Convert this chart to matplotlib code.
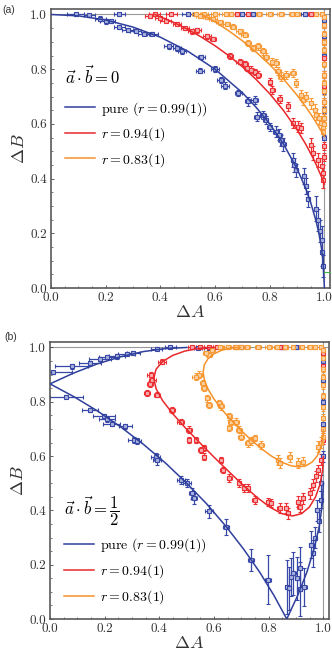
import numpy as np
import matplotlib
matplotlib.use("Agg")
import matplotlib.pyplot as plt
from matplotlib.ticker import MultipleLocator, FormatStrFormatter

plt.rcParams['font.family'] = ['cmr10', 'DejaVu Serif']
plt.rcParams['mathtext.fontset'] = 'cm'
plt.rcParams['axes.formatter.use_mathtext'] = True

BLUE = '#2f3f9c'
RED = '#e8282c'
ORANGE = '#f5922c'
BLUE_PT = '#3848a6'
RED_PT = '#ec3034'
ORANGE_PT = '#f79a38'
BLUE_FILL = '#aab2dc'
RED_FILL = '#f6b0b0'
ORANGE_FILL = '#fbd3a6'

# ---------------- panel (a): a.b = 0 ----------------
# fitted curves
a_pure_x = [0.0, 0.1, 0.2, 0.3, 0.4, 0.5, 0.6, 0.7, 0.75, 0.8, 0.85, 0.9, 0.93, 0.95, 0.97, 0.98, 0.99, 0.995, 1.0]
a_pure_y = [1.0, 0.995, 0.98, 0.954, 0.917, 0.866, 0.80, 0.714, 0.661, 0.60, 0.527, 0.436, 0.368, 0.312, 0.243, 0.199, 0.141, 0.10, 0.0]
a_r94_x = [0.38, 0.45, 0.5, 0.55, 0.6, 0.65, 0.7, 0.75, 0.8, 0.85, 0.9, 0.93, 0.95, 0.97, 0.99, 1.0]
a_r94_y = [1.0, 0.9705, 0.9457, 0.9175, 0.8857, 0.8497, 0.8089, 0.7628, 0.7102, 0.6495, 0.5783, 0.5287, 0.4918, 0.4511, 0.4053, 0.38]
a_r83_x = [0.554, 0.6, 0.65, 0.7, 0.75, 0.8, 0.85, 0.9, 0.93, 0.95, 0.97, 0.99, 1.0]
a_r83_y = [1.0, 0.9731, 0.9405, 0.9039, 0.8628, 0.8167, 0.7645, 0.705, 0.6649, 0.636, 0.6051, 0.5718, 0.554]

# measured points
a_pure_px = [0.09, 0.14, 0.25, 0.18, 0.20, 0.22, 0.25, 0.28, 0.31, 0.34, 0.37, 0.43, 0.46, 0.48, 0.55, 0.545,
             0.60, 0.62, 0.635, 0.685, 0.72, 0.745, 0.755, 0.775, 0.785, 0.80, 0.822, 0.835, 0.842, 0.848,
             0.884, 0.89, 0.897, 0.925, 0.932, 0.94, 0.968, 0.978, 0.985, 0.99, 0.993, 0.996,
             0.50, 0.70, 0.74, 0.93, 1.0, 1.0, 1.0, 1.0, 1.0, 1.0]
a_pure_py = [1.0, 0.998, 1.0, 0.985, 0.975, 0.975, 0.953, 0.943, 0.94, 0.93, 0.93, 0.883, 0.876, 0.865, 0.845, 0.795,
             0.80, 0.76, 0.74, 0.713, 0.682, 0.688, 0.627, 0.634, 0.615, 0.59, 0.572, 0.56, 0.54, 0.525,
             0.468, 0.45, 0.43, 0.41, 0.372, 0.325, 0.29, 0.25, 0.21, 0.175, 0.13, 0.08,
             1.0, 1.0, 1.0, 1.0, 0.98, 0.92, 0.85, 0.72, 0.65, 0.55]
a_pure_xerr = [0.03, 0.02, 0.02, 0.02, 0.02, 0.015, 0.02, 0.02, 0.02, 0.02, 0.02, 0.015, 0.015, 0.015, 0.012, 0.015,
               0.015, 0.012, 0.015, 0.012, 0.012, 0.012, 0.012, 0.012, 0.01, 0.01, 0.01, 0.01, 0.01, 0.01,
               0.008, 0.008, 0.008, 0.008, 0.008, 0.006, 0.006, 0.006, 0.005, 0.005, 0.004, 0.003,
               0.02, 0.02, 0.015, 0.015, 0.003, 0.003, 0.003, 0.003, 0.003, 0.003]
a_pure_yerr = [0.005, 0.005, 0.004, 0.008, 0.008, 0.006, 0.006, 0.006, 0.006, 0.006, 0.006, 0.008, 0.01, 0.01, 0.008, 0.01,
               0.012, 0.012, 0.012, 0.012, 0.015, 0.015, 0.015, 0.015, 0.015, 0.015, 0.02, 0.02, 0.02, 0.025,
               0.025, 0.025, 0.025, 0.03, 0.03, 0.03, 0.045, 0.04, 0.04, 0.05, 0.05, 0.04,
               0.004, 0.004, 0.004, 0.004, 0.01, 0.01, 0.01, 0.01, 0.01, 0.01]

a_r94_px = [0.362, 0.40, 0.42, 0.46, 0.49, 0.515, 0.535, 0.57, 0.593, 0.655, 0.69, 0.71, 0.716, 0.733, 0.745, 0.758,
            0.80, 0.81, 0.836, 0.866, 0.885, 0.903, 0.913, 0.95, 0.957, 0.978, 0.99, 0.994, 0.996,
            0.38, 0.44, 0.68, 0.72, 0.95, 1.0, 1.0, 1.0, 1.0, 1.0, 1.0, 1.0, 1.0, 1.0]
a_r94_py = [0.995, 0.988, 0.978, 0.966, 0.95, 0.938, 0.942, 0.92, 0.91, 0.849, 0.828, 0.82, 0.803, 0.798, 0.79, 0.78,
            0.755, 0.725, 0.69, 0.664, 0.603, 0.59, 0.585, 0.524, 0.493, 0.469, 0.445, 0.42, 0.395,
            1.0, 1.0, 1.0, 1.0, 1.0, 0.96, 0.90, 0.84, 0.78, 0.74, 0.68, 0.62, 0.52, 0.48]
a_r94_xerr = [0.02, 0.02, 0.02, 0.015, 0.015, 0.015, 0.015, 0.015, 0.012, 0.012, 0.012, 0.012, 0.01, 0.01, 0.01, 0.01,
              0.008, 0.008, 0.008, 0.008, 0.008, 0.006, 0.006, 0.006, 0.006, 0.005, 0.004, 0.004, 0.003,
              0.02, 0.02, 0.015, 0.015, 0.01, 0.003, 0.003, 0.003, 0.003, 0.003, 0.003, 0.003, 0.003, 0.003]
a_r94_yerr = [0.005, 0.005, 0.006, 0.006, 0.006, 0.008, 0.008, 0.008, 0.008, 0.01, 0.01, 0.01, 0.01, 0.012, 0.012, 0.012,
              0.012, 0.015, 0.015, 0.015, 0.018, 0.02, 0.02, 0.025, 0.025, 0.025, 0.03, 0.03, 0.03,
              0.004, 0.004, 0.004, 0.004, 0.004, 0.01, 0.01, 0.012, 0.012, 0.012, 0.015, 0.015, 0.015, 0.015]

a_r83_px = [0.532, 0.544, 0.57, 0.593, 0.617, 0.642, 0.666, 0.69, 0.708, 0.72, 0.739, 0.757, 0.775, 0.787, 0.81,
            0.824, 0.83, 0.842, 0.86, 0.885, 0.897, 0.915, 0.921, 0.933, 0.951, 0.964, 0.97, 0.982, 0.988, 0.994, 0.996,
            0.56, 0.60, 0.64, 0.66, 0.76, 0.80, 0.84, 0.88, 0.90, 0.97, 0.99,
            1.0, 1.0, 1.0, 1.0, 1.0, 1.0, 1.0, 1.0, 1.0, 1.0, 1.0, 1.0, 1.0]
a_r83_py = [1.0, 0.993, 0.99, 0.983, 0.971, 0.966, 0.956, 0.938, 0.926, 0.895, 0.877, 0.883, 0.865, 0.846, 0.828,
            0.822, 0.792, 0.773, 0.78, 0.785, 0.749, 0.706, 0.688, 0.70, 0.676, 0.652, 0.633, 0.621, 0.603, 0.59, 0.572,
            1.0, 1.0, 1.0, 1.0, 1.0, 1.0, 1.0, 1.0, 1.0, 1.0, 1.0,
            0.99, 0.96, 0.93, 0.90, 0.87, 0.82, 0.78, 0.75, 0.72, 0.68, 0.65, 0.62, 0.60]
a_r83_xerr = [0.015, 0.015, 0.015, 0.015, 0.012, 0.012, 0.012, 0.012, 0.012, 0.012, 0.012, 0.012, 0.01, 0.01, 0.01,
              0.01, 0.01, 0.01, 0.01, 0.01, 0.008, 0.008, 0.008, 0.008, 0.006, 0.006, 0.006, 0.005, 0.005, 0.004, 0.003,
              0.015, 0.015, 0.015, 0.015, 0.012, 0.012, 0.012, 0.01, 0.01, 0.008, 0.006,
              0.003, 0.003, 0.003, 0.003, 0.003, 0.003, 0.003, 0.003, 0.003, 0.003, 0.003, 0.003, 0.003]
a_r83_yerr = [0.005, 0.006, 0.006, 0.006, 0.008, 0.008, 0.008, 0.01, 0.01, 0.012, 0.012, 0.012, 0.012, 0.012, 0.012,
              0.015, 0.015, 0.015, 0.015, 0.015, 0.015, 0.018, 0.018, 0.018, 0.02, 0.02, 0.02, 0.02, 0.02, 0.02, 0.02,
              0.004, 0.004, 0.004, 0.004, 0.004, 0.004, 0.004, 0.004, 0.004, 0.004, 0.004,
              0.008, 0.01, 0.01, 0.01, 0.012, 0.012, 0.012, 0.012, 0.015, 0.015, 0.015, 0.015, 0.015]

a_green_x = [1.0, 1.02]
a_green_y = [0.06, 0.06]

# ---------------- panel (b): a.b = 1/2 ----------------
b_pure_x = [0.5, 0.423, 0.342, 0.259, 0.174, 0.087, 0.0, 0.087, 0.174, 0.259, 0.342, 0.423, 0.5, 0.574,
            0.643, 0.707, 0.766, 0.819, 0.866, 0.906, 0.940, 0.966, 0.985, 0.996, 1.0]
b_pure_y = [1.0, 0.996, 0.985, 0.966, 0.940, 0.906, 0.866, 0.819, 0.766, 0.707, 0.643, 0.574, 0.5, 0.423,
            0.342, 0.259, 0.174, 0.087, 0.0, 0.087, 0.174, 0.259, 0.342, 0.423, 0.5]
b_r94_x = [0.598, 0.545, 0.494, 0.449, 0.412, 0.388, 0.3795, 0.388, 0.412, 0.449, 0.494, 0.545, 0.598, 0.652,
           0.705, 0.756, 0.804, 0.848, 0.887, 0.920, 0.9486, 0.9709, 0.987, 0.9967, 1.0]
b_r94_y = [1.0, 0.9967, 0.987, 0.9709, 0.9486, 0.920, 0.887, 0.848, 0.804, 0.756, 0.705, 0.652, 0.598, 0.545,
           0.494, 0.449, 0.412, 0.388, 0.3795, 0.388, 0.412, 0.449, 0.494, 0.545, 0.598]
b_r83_x = [0.6966, 0.6605, 0.6276, 0.5997, 0.5782, 0.5646, 0.560, 0.5646, 0.5782, 0.5997, 0.6276, 0.6605, 0.6966,
           0.7345, 0.7728, 0.8104, 0.8464, 0.8799, 0.9102, 0.9367, 0.9590, 0.9767, 0.9896, 0.9974, 1.0]
b_r83_y = [1.0, 0.9974, 0.9896, 0.9767, 0.9590, 0.9367, 0.9102, 0.8799, 0.8464, 0.8104, 0.7728, 0.7345, 0.6966,
           0.6605, 0.6276, 0.5997, 0.5782, 0.5646, 0.560, 0.5646, 0.5782, 0.5997, 0.6276, 0.6605, 0.6966]

b_pure_px = [0.012, 0.08, 0.147, 0.184, 0.208, 0.245, 0.28, 0.305, 0.39, 0.44, 0.54, 0.58, 0.70, 0.85, 0.90,
             0.06, 0.147, 0.196, 0.208, 0.225, 0.276, 0.306, 0.319, 0.386, 0.392, 0.478, 0.50, 0.52, 0.527,
             0.582, 0.643, 0.735, 0.797,
             0.868, 0.875, 0.882, 0.89, 0.905, 0.913, 0.913, 0.929, 0.956, 0.962, 0.97, 0.975, 0.983, 0.99, 0.993,
             1.0, 1.0, 1.0, 1.0, 1.0]
b_pure_py = [0.908, 0.93, 0.942, 0.957, 0.965, 0.967, 0.977, 0.98, 0.995, 1.0, 0.998, 0.998, 1.0, 1.0, 1.0,
             0.819, 0.77, 0.746, 0.735, 0.72, 0.709, 0.66, 0.655, 0.598, 0.586, 0.512, 0.50, 0.463, 0.445,
             0.396, 0.34, 0.217, 0.144,
             0.119, 0.113, 0.156, 0.168, 0.15, 0.187, 0.111, 0.119, 0.273, 0.242, 0.30, 0.40, 0.36, 0.44, 0.50,
             0.60, 0.72, 0.80, 0.88, 0.95]
b_pure_xerr = [0.07, 0.06, 0.04, 0.04, 0.03, 0.03, 0.03, 0.025, 0.02, 0.02, 0.015, 0.015, 0.015, 0.012, 0.012,
               0.06, 0.03, 0.04, 0.03, 0.03, 0.025, 0.02, 0.015, 0.015, 0.015, 0.015, 0.015, 0.012, 0.012,
               0.015, 0.01, 0.012, 0.012,
               0.008, 0.008, 0.008, 0.008, 0.008, 0.008, 0.01, 0.01, 0.008, 0.008, 0.006, 0.006, 0.006, 0.005, 0.004,
               0.003, 0.003, 0.003, 0.003, 0.003]
b_pure_yerr = [0.006, 0.008, 0.008, 0.008, 0.008, 0.008, 0.006, 0.006, 0.005, 0.004, 0.004, 0.004, 0.004, 0.004, 0.004,
               0.006, 0.008, 0.008, 0.008, 0.008, 0.008, 0.01, 0.01, 0.015, 0.02, 0.015, 0.015, 0.02, 0.02,
               0.025, 0.03, 0.04, 0.09,
               0.1, 0.08, 0.07, 0.08, 0.08, 0.08, 0.1, 0.07, 0.05, 0.05, 0.04, 0.04, 0.04, 0.03, 0.03,
               0.02, 0.015, 0.01, 0.01, 0.01]

b_r94_px = [0.41, 0.368, 0.374, 0.365, 0.392, 0.355, 0.447, 0.478, 0.508, 0.508, 0.533, 0.564, 0.551, 0.564,
            0.625, 0.631, 0.656, 0.692, 0.711, 0.723, 0.748, 0.797, 0.809, 0.84, 0.864, 0.87, 0.907, 0.913,
            0.925, 0.95, 0.962, 0.974, 0.98, 0.99,
            0.52, 0.55, 0.58, 0.61, 0.68, 0.84, 0.86, 1.0, 1.0, 1.0, 1.0]
b_r94_py = [0.948, 0.90, 0.881, 0.865, 0.826, 0.832, 0.77, 0.727, 0.697, 0.66, 0.66, 0.629, 0.623, 0.598,
            0.586, 0.549, 0.519, 0.50, 0.482, 0.482, 0.439, 0.432, 0.426, 0.408, 0.408, 0.39, 0.432, 0.414,
            0.445, 0.463, 0.494, 0.525, 0.549, 0.586,
            1.0, 1.0, 1.0, 1.0, 1.0, 1.0, 1.0, 0.98, 0.93, 0.70, 0.66]
b_r94_xerr = [0.015, 0.012, 0.012, 0.012, 0.012, 0.012, 0.012, 0.012, 0.01, 0.008, 0.008, 0.008, 0.008, 0.008,
              0.008, 0.008, 0.008, 0.008, 0.008, 0.008, 0.008, 0.008, 0.008, 0.008, 0.008, 0.008, 0.008, 0.008,
              0.006, 0.006, 0.006, 0.005, 0.005, 0.004,
              0.015, 0.015, 0.015, 0.015, 0.012, 0.01, 0.01, 0.003, 0.003, 0.003, 0.003]
b_r94_yerr = [0.008, 0.01, 0.01, 0.01, 0.01, 0.01, 0.01, 0.01, 0.012, 0.012, 0.012, 0.012, 0.012, 0.012,
              0.012, 0.012, 0.015, 0.015, 0.015, 0.015, 0.015, 0.015, 0.015, 0.018, 0.018, 0.02, 0.02, 0.02,
              0.02, 0.02, 0.02, 0.02, 0.02, 0.02,
              0.004, 0.004, 0.004, 0.004, 0.004, 0.004, 0.004, 0.01, 0.01, 0.015, 0.015]

b_r83_px = [0.582, 0.594, 0.57, 0.545, 0.533, 0.558, 0.564, 0.576, 0.582, 0.619, 0.625, 0.656, 0.662, 0.68,
            0.656, 0.692, 0.699, 0.723, 0.748, 0.735, 0.772, 0.833, 0.84, 0.876, 0.907, 0.925, 0.98, 0.99,
            0.62, 0.65, 0.68, 0.70, 0.72, 0.76, 0.80, 0.83, 0.86, 0.89, 0.92, 0.95, 0.97, 0.99,
            1.0, 1.0, 1.0, 1.0, 1.0, 1.0, 1.0, 1.0, 1.0, 1.0]
b_r83_py = [0.973, 0.992, 0.979, 0.90, 0.893, 0.869, 0.85, 0.813, 0.789, 0.795, 0.783, 0.746, 0.727, 0.727,
            0.703, 0.697, 0.672, 0.647, 0.666, 0.654, 0.641, 0.586, 0.574, 0.598, 0.574, 0.58, 0.635, 0.65,
            1.0, 1.0, 1.0, 1.0, 1.0, 1.0, 1.0, 1.0, 1.0, 1.0, 1.0, 1.0, 1.0, 1.0,
            0.99, 0.96, 0.92, 0.89, 0.86, 0.82, 0.78, 0.74, 0.70, 0.67]
b_r83_xerr = [0.01, 0.01, 0.01, 0.012, 0.012, 0.01, 0.01, 0.01, 0.01, 0.01, 0.01, 0.01, 0.01, 0.01,
              0.01, 0.01, 0.01, 0.01, 0.01, 0.01, 0.01, 0.008, 0.008, 0.008, 0.008, 0.008, 0.006, 0.005,
              0.012, 0.012, 0.012, 0.012, 0.012, 0.012, 0.012, 0.012, 0.01, 0.01, 0.01, 0.01, 0.008, 0.006,
              0.003, 0.003, 0.003, 0.003, 0.003, 0.003, 0.003, 0.003, 0.003, 0.003]
b_r83_yerr = [0.008, 0.006, 0.008, 0.012, 0.012, 0.012, 0.012, 0.012, 0.012, 0.012, 0.012, 0.012, 0.012, 0.012,
              0.012, 0.012, 0.012, 0.012, 0.012, 0.015, 0.015, 0.018, 0.018, 0.018, 0.018, 0.018, 0.02, 0.02,
              0.004, 0.004, 0.004, 0.004, 0.004, 0.004, 0.004, 0.004, 0.004, 0.004, 0.004, 0.004, 0.004, 0.004,
              0.008, 0.01, 0.01, 0.012, 0.012, 0.012, 0.015, 0.015, 0.015, 0.015]

legend_labels = [r'$\mathrm{pure}\ (r = 0.99(1))$', r'$r = 0.94(1)$', r'$r = 0.83(1)$']


def draw_points(ax, x, y, xerr, yerr, color, fill):
    ax.errorbar(x, y, xerr=xerr, yerr=yerr, fmt='s', ms=2.8, mfc=fill, mec=color, mew=0.8,
                ecolor=color, elinewidth=0.9, capsize=1.1, capthick=0.8, zorder=2)


def style_axes(ax):
    ax.set_xlim(0, 1.02)
    ax.set_ylim(0, 1.02)
    ax.axhline(1.0, color='#9a9a9a', lw=0.8, zorder=1)
    ax.axvline(1.0, color='#9a9a9a', lw=0.8, zorder=1)
    ax.xaxis.set_major_locator(MultipleLocator(0.2))
    ax.yaxis.set_major_locator(MultipleLocator(0.2))
    ax.xaxis.set_minor_locator(MultipleLocator(0.05))
    ax.yaxis.set_minor_locator(MultipleLocator(0.05))
    ax.xaxis.set_major_formatter(FormatStrFormatter('%.1f'))
    ax.yaxis.set_major_formatter(FormatStrFormatter('%.1f'))
    ax.tick_params(which='major', direction='in', length=2.5, width=0.6, labelsize=9.5,
                   colors='#444444', labelcolor='#333333', pad=3)
    ax.tick_params(which='minor', direction='in', length=1.2, width=0.5, colors='#444444')
    for s in ax.spines.values():
        s.set_color('#5a5a5a')
        s.set_linewidth(1.2)
    ax.set_xlabel(r'$\Delta A$', fontsize=13, labelpad=0, color='#333333')
    ax.set_ylabel(r'$\Delta B$', fontsize=13, labelpad=2, color='#333333')


fig = plt.figure(figsize=(3.32, 6.54), dpi=100)
ax_a = fig.add_axes([0.1536, 0.5596, 0.840, 0.4266])
ax_b = fig.add_axes([0.1506, 0.0535, 0.840, 0.4235])

# panel (a)
style_axes(ax_a)
draw_points(ax_a, a_pure_px, a_pure_py, a_pure_xerr, a_pure_yerr, BLUE_PT, BLUE_FILL)
draw_points(ax_a, a_r94_px, a_r94_py, a_r94_xerr, a_r94_yerr, RED_PT, RED_FILL)
draw_points(ax_a, a_r83_px, a_r83_py, a_r83_xerr, a_r83_yerr, ORANGE_PT, ORANGE_FILL)
la1, = ax_a.plot(a_pure_x, a_pure_y, color=BLUE, lw=1.1, zorder=3)
la2, = ax_a.plot(a_r94_x, a_r94_y, color=RED, lw=1.1, zorder=3)
la3, = ax_a.plot(a_r83_x, a_r83_y, color=ORANGE, lw=1.1, zorder=3)
ax_a.plot(a_green_x, a_green_y, color='#3cb44b', lw=0.8, clip_on=False, zorder=3)
leg_a = ax_a.legend([la1, la2, la3], legend_labels, title=r'$\vec{a}\cdot\vec{b} = 0$',
                    loc='upper left', bbox_to_anchor=(0.05, 0.80), frameon=False, alignment='left',
                    fontsize=10, title_fontsize=12, handlelength=2.2, handletextpad=0.4,
                    labelspacing=0.55, borderpad=0, borderaxespad=0)
leg_a._legend_box.sep = 9

# panel (b)
style_axes(ax_b)
draw_points(ax_b, b_pure_px, b_pure_py, b_pure_xerr, b_pure_yerr, BLUE_PT, BLUE_FILL)
draw_points(ax_b, b_r94_px, b_r94_py, b_r94_xerr, b_r94_yerr, RED_PT, RED_FILL)
draw_points(ax_b, b_r83_px, b_r83_py, b_r83_xerr, b_r83_yerr, ORANGE_PT, ORANGE_FILL)
lb1, = ax_b.plot(b_pure_x, b_pure_y, color=BLUE, lw=1.1, zorder=3)
lb2, = ax_b.plot(b_r94_x, b_r94_y, color=RED, lw=1.1, zorder=3)
lb3, = ax_b.plot(b_r83_x, b_r83_y, color=ORANGE, lw=1.1, zorder=3)
leg_b = ax_b.legend([lb1, lb2, lb3], legend_labels, title=r'$\vec{a}\cdot\vec{b} = \dfrac{1}{2}$',
                    loc='upper left', bbox_to_anchor=(0.05, 0.45), frameon=False, alignment='left',
                    fontsize=10, title_fontsize=12, handlelength=2.2, handletextpad=0.4,
                    labelspacing=0.6, borderpad=0, borderaxespad=0)
leg_b._legend_box.sep = 6

fig.text(0.008, 0.993, '(a)', fontsize=7.5, family='Liberation Sans', va='top', ha='left', color='#333333')
fig.text(0.012, 0.492, '(b)', fontsize=7.5, family='Liberation Sans', va='top', ha='left', color='#333333')

fig.savefig('out.png', dpi=100)
